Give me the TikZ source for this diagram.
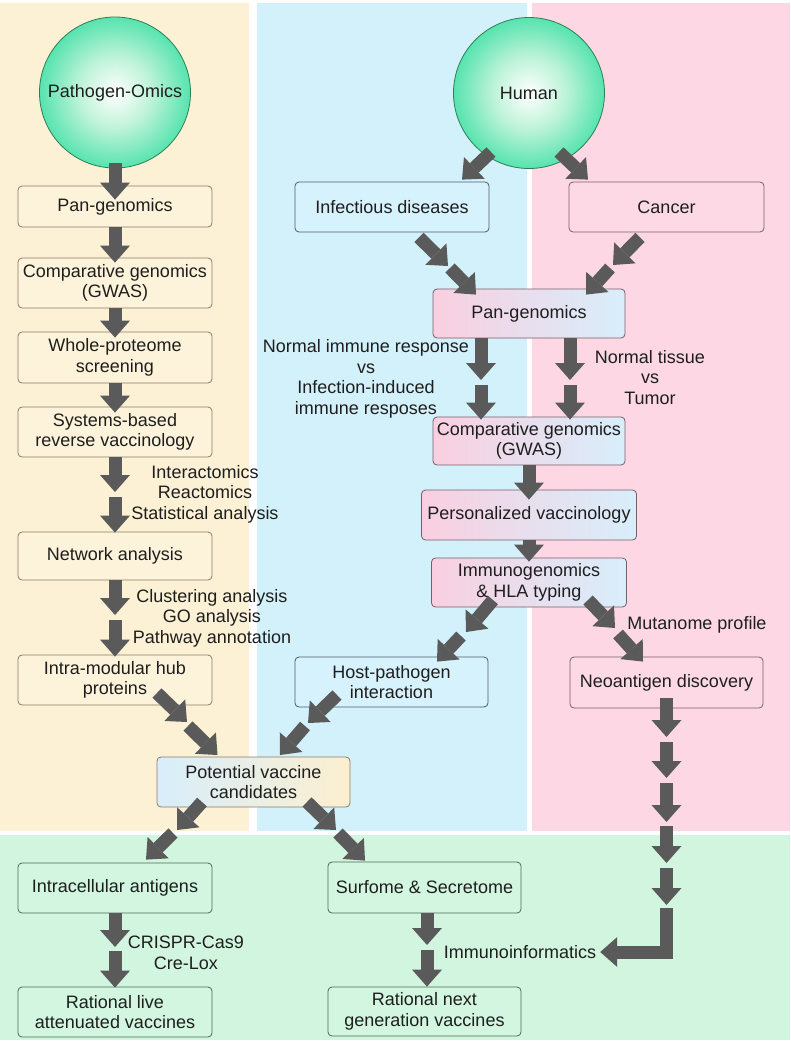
\documentclass[tikz,border=0pt]{standalone}
\usepackage{fontspec}
\setmainfont{Liberation Sans}
\usetikzlibrary{arrows.meta,calc}
\definecolor{ypanel}{HTML}{FCF1D4}
\definecolor{bpanel}{HTML}{D3F1FB}
\definecolor{ppanel}{HTML}{FDD8E4}
\definecolor{gpanel}{HTML}{D1F5DE}
\definecolor{arrowc}{HTML}{5A5A5A}
\definecolor{txt}{HTML}{1E1E1E}
\definecolor{gdark}{HTML}{00C77E}
\definecolor{gmid}{HTML}{00D68C}
\definecolor{glight}{HTML}{BDF3D8}
\definecolor{gborder}{HTML}{2F7F55}
\definecolor{yboxc}{HTML}{FDF3DA}
\definecolor{bboxc}{HTML}{D6F2FC}
\definecolor{pboxc}{HTML}{FDD9E6}
\definecolor{gboxc}{HTML}{D3F6E0}
\definecolor{pgrad}{HTML}{F9CFE0}
\definecolor{bgrad}{HTML}{D8EEFB}
\definecolor{ygrad}{HTML}{FCEFCF}
\definecolor{yborder}{HTML}{8A7B68}
\definecolor{bborder}{HTML}{4E5C68}
\definecolor{pborder}{HTML}{7A5E68}
\definecolor{gborderb}{HTML}{4F6A58}
\pgfdeclareradialshading{ballgreen}{\pgfpoint{0bp}{0bp}}{color(0bp)=(white); color(12bp)=(glight); color(36bp)=(gmid); color(50bp)=(gdark); color(100bp)=(gdark)}
\tikzset{
  box/.style={rounded corners=4pt, line width=0.8pt, align=center, inner sep=0pt,
    minimum width=194pt, minimum height=50pt, font=\fontsize{18}{20.5}\selectfont, text=txt},
  yb/.style={box, fill=yboxc, draw=yborder},
  bb/.style={box, fill=bboxc, draw=bborder},
  pb/.style={box, fill=pboxc, draw=pborder},
  gb/.style={box, fill=gboxc, draw=gborderb},
  gradbox/.style={box, left color=pgrad, right color=bgrad, draw=pborder},
  pvbox/.style={box, left color=bgrad, right color=ygrad, draw=yborder},
  ball/.style={circle, minimum size=151pt, inner sep=0pt, shade, shading=ballgreen,
    draw=gborder, line width=0.8pt, font=\fontsize{18}{20.5}\selectfont, text=txt},
  lbl/.style={align=center, inner sep=0pt, font=\fontsize{18}{20.5}\selectfont, text=txt},
  barrow/.style={draw=arrowc, line width=13pt, line join=miter,
    -{Triangle[length=17pt,width=30pt,line width=0pt]}},
}
\begin{document}
\begin{tikzpicture}[x=1pt,y=-1pt]
\useasboundingbox (0,0) rectangle (790,1047);
\fill[white] (0,0) rectangle (790,1047);
% panels
\fill[ypanel] (0,3) rectangle (249,831);
\fill[bpanel] (257,3) rectangle (527,831);
\fill[ppanel] (532,3) rectangle (790,831);
\fill[gpanel] (0,835) rectangle (790,1040);

% circles
\node[ball] (po) at (115,92.5) {Pathogen-Omics};
\node[ball] (hu) at (529,93) {Human};

% left column
\node[yb, minimum height=41pt] (pg1) at (115,206.5) {Pan-genomics};
\node[yb] (cg1) at (115,283) {Comparative genomics\\(GWAS)};
\node[yb, minimum height=51pt] (wp) at (115,357.5) {Whole-proteome\\screening};
\node[yb] (sb) at (115,432) {Systems-based\\reverse vaccinology};
\node[yb, minimum height=48pt] (na) at (115,556) {Network analysis};
\node[yb] (ih) at (115,680) {Intra-modular hub\\proteins};

% right side
\node[bb] (id) at (392,207) {Infectious diseases};
\node[pb, minimum width=195pt] (ca) at (666.5,207) {Cancer};
\node[gradbox, minimum width=192pt, minimum height=49pt] (pg2) at (529,313.5) {Pan-genomics};
\node[gradbox, minimum width=192pt, minimum height=48pt] (cg2) at (529,441) {Comparative genomics\\(GWAS)};
\node[gradbox, minimum width=215pt] (pvac) at (529,515) {Personalized vaccinology};
\node[gradbox, minimum width=195pt, minimum height=49pt] (ig) at (529,582.5) {Immunogenomics\\\& HLA typing};
\node[bb, minimum width=193pt] (hp) at (391.5,682) {Host-pathogen\\interaction};
\node[pb, minimum width=193pt, minimum height=51pt] (nd) at (666.5,682.5) {Neoantigen discovery};

% centre and bottom
\node[pvbox, minimum width=193pt] (pv) at (253.5,782) {Potential vaccine\\candidates};
\node[gb] (ic) at (115,888) {Intracellular antigens};
\node[gb] (rl) at (115,1012) {Rational live\\attenuated vaccines};
\node[gb, minimum width=193pt, minimum height=51pt] (ss) at (424.5,887.5) {Surfome \& Secretome};
\node[gb, minimum width=193pt, minimum height=49pt] (rn) at (424.5,1011.5) {Rational next\\generation vaccines};

% labels
\node[lbl] (l1) at (205,494) {Interactomics\\Reactomics\\Statistical analysis};
\node[lbl] (l2) at (212,618) {Clustering analysis\\GO analysis\\Pathway annotation};
\node[lbl] (l3) at (366,379) {Normal immune response\\vs\\Infection-induced\\immune resposes};
\node[lbl] (l4) at (650,377.5) {Normal tissue\\vs\\Tumor};
\node[lbl] (l5) at (697,625) {Mutanome profile};
\node[lbl] (imm) at (520,952) {Immunoinformatics};
\node[lbl] (l6) at (186,953) {CRISPR-Cas9\\Cre-Lox};

% intermediate coordinates
\coordinate (m1) at (115,492);  \coordinate (m1b) at (115,497);
\coordinate (m2) at (115,615);  \coordinate (m2b) at (115,620);
\coordinate (m3) at (115,947);  \coordinate (m3b) at (115,951);
\coordinate (m4) at (427,945);  \coordinate (m4b) at (427,950);
\coordinate (m5) at (481,380);  \coordinate (m5b) at (481,385);
\coordinate (m6) at (570,380);  \coordinate (m6b) at (570,385);
\coordinate (d1) at (187,722);  \coordinate (d1b) at (188,726);
\coordinate (d2) at (308,723);  \coordinate (d2b) at (305,726);
\coordinate (d3) at (177,830);  \coordinate (d3b) at (173,833);
\coordinate (d4) at (336,830);  \coordinate (d4b) at (338,833);
\coordinate (d5) at (448,266);  \coordinate (d5b) at (450,268);
\coordinate (d6) at (613,265);  \coordinate (d6b) at (610,268);
\coordinate (d7) at (466,632);  \coordinate (d7b) at (461,636);
\coordinate (d8) at (615,628);  \coordinate (d8b) at (618,634);
\coordinate (e1) at (666.5,737); \coordinate (e1b) at (666.5,742);
\coordinate (e2) at (666.5,778); \coordinate (e2b) at (666.5,783);
\coordinate (e3) at (666.5,822); \coordinate (e3b) at (666.5,826);
\coordinate (e4) at (666.5,863); \coordinate (e4b) at (666.5,868);
\coordinate (e5) at (666.5,905); \coordinate (e5b) at (666.5,908);

% left column arrows
\draw[barrow] ($(po.south)+(0,-5)$) -- ($(pg1.north)+(0,14)$);
\draw[barrow] (pg1.south) -- ($(cg1.north)+(0,5)$);
\draw[barrow] (cg1.south) -- ($(wp.north)+(0,6)$);
\draw[barrow] (wp.south) -- ($(sb.north)+(0,6)$);
\draw[barrow] (sb.south) -- (m1);
\draw[barrow] (m1b) -- ($(na.north)+(0,1)$);
\draw[barrow] (na.south) -- (m2);
\draw[barrow] (m2b) -- ($(ih.north)+(0,2)$);
\draw[barrow] ($(ih.center)+(42,13)$) -- (d1);
\draw[barrow] (d1b) -- ($(pv.center)+(-36,-27)$);

% human side arrows
\draw[barrow] ($(hu.center)+(-38,59)$) -- ($(id.north)+(70,-2)$);
\draw[barrow] ($(hu.center)+(30,59)$) -- ($(ca.north)+(-78.5,-2)$);
\draw[barrow] ($(id.south)+(27,5)$) -- (d5);
\draw[barrow] (d5b) -- ($(pg2.north)+(-53,6)$);
\draw[barrow] ($(ca.south)+(-26.5,5)$) -- (d6);
\draw[barrow] (d6b) -- ($(pg2.north)+(57,6)$);
\draw[barrow] ($(pg2.south)+(-48,0)$) -- (m5);
\draw[barrow] (m5b) -- ($(cg2.north)+(-48,3)$);
\draw[barrow] ($(pg2.south)+(41,0)$) -- (m6);
\draw[barrow] (m6b) -- ($(cg2.north)+(41,3)$);
\draw[barrow] (cg2.south) -- ($(pvac.north)+(0,10)$);
\draw[barrow] (pvac.south) -- ($(ig.north)+(0,4)$);
\draw[barrow] ($(ig.center)+(-36,17.5)$) -- (d7);
\draw[barrow] (d7b) -- ($(hp.north)+(45.5,5)$);
\draw[barrow] ($(ig.center)+(59,17.5)$) -- (d8);
\draw[barrow] (d8b) -- ($(nd.north)+(-23.5,5)$);
\draw[barrow] ($(hp.center)+(-54.5,13)$) -- (d2);
\draw[barrow] (d2b) -- ($(pv.center)+(26.5,-27)$);

% neoantigen chain
\draw[barrow] ($(nd.south)+(0,-10)$) -- (e1);
\draw[barrow] (e1b) -- (e2);
\draw[barrow] (e2b) -- (e3);
\draw[barrow] (e3b) -- (e4);
\draw[barrow] (e4b) -- (e5);
\draw[barrow] (e5b) |- ($(imm.east)+(4,0)$);

% bottom arrows
\draw[barrow] ($(pv.center)+(-51.5,20)$) -- (d3);
\draw[barrow] (d3b) -- ($(ic.north)+(31,-3)$);
\draw[barrow] ($(pv.center)+(53.5,20)$) -- (d4);
\draw[barrow] (d4b) -- ($(ss.north)+(-59.5,-1)$);
\draw[barrow] (ic.south) -- (m3);
\draw[barrow] (m3b) -- ($(rl.north)+(0,1)$);
\draw[barrow] ($(ss.south)+(2.5,0)$) -- (m4);
\draw[barrow] (m4b) -- ($(rn.north)+(2.5,0)$);
\end{tikzpicture}
\end{document}
